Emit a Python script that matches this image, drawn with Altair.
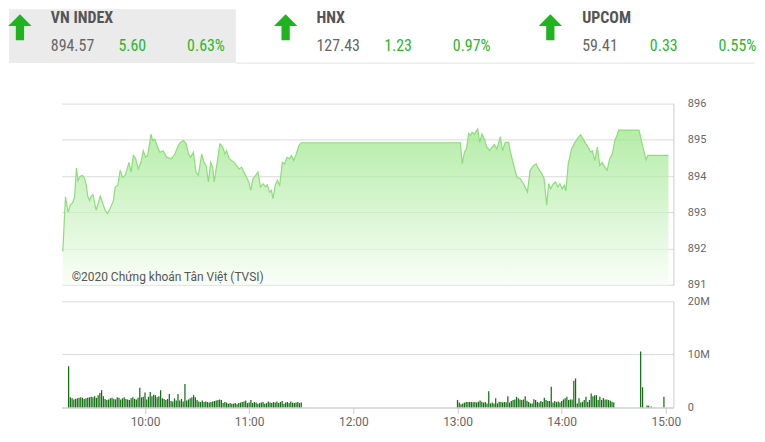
import altair as alt
import pandas as pd

# ---------------- data ----------------
INDEX_NAMES = ["VN INDEX", "HNX", "UPCOM"]
INDEX_VALUES = ["894.57", "127.43", "59.41"]
INDEX_CHANGES = ["5.60", "1.23", "0.33"]
INDEX_PCTS = ["0.63%", "0.97%", "0.55%"]

# minutes since midnight, VN-Index value
PRICE_T = [555.5, 557.0, 558.5, 559.8, 561.1, 562.2, 563.2, 564.1, 565.4, 566.7,
           567.9, 568.8, 569.7, 570.7, 571.6, 572.6, 573.5, 574.4, 575.4, 576.7,
           578.2, 579.5, 580.8, 582.3, 584.2, 585.2, 586.7, 588.0, 589.3, 590.8,
           591.7, 593.0, 594.2, 595.5, 596.8, 598.3, 599.8, 601.1, 602.4, 603.6,
           605.5, 606.4, 607.7, 609.2, 610.5, 612.4, 614.3, 617.1, 619.0, 620.9,
           622.0, 623.9, 625.4, 626.7, 628.0, 629.5, 631.0, 632.3, 634.2, 635.5,
           636.7, 638.0, 639.3, 640.4, 641.3, 642.7, 644.5, 646.1, 647.4, 648.3,
           649.8, 651.1, 652.6, 653.9, 655.4, 656.8, 658.1, 659.6, 660.9, 662.0,
           663.3, 664.8, 666.1, 667.5, 669.0, 670.3, 671.4, 672.7, 673.7, 674.6,
           675.9, 677.1, 678.4, 679.9, 681.2, 682.5, 684.0, 685.0, 686.3, 687.8,
           689.3, 690.6, 780.8, 781.8, 783.1, 784.2, 785.5, 786.5, 787.4, 788.7,
           789.9, 790.6, 791.7, 793.0, 794.4, 795.8, 797.4, 798.7, 800.0, 801.5,
           803.4, 804.7, 806.2, 808.1, 809.4, 811.3, 812.8, 814.7, 816.6, 818.8,
           820.3, 822.2, 823.7, 825.0, 826.9, 828.2, 829.7, 830.8, 831.9, 833.5,
           834.8, 835.9, 837.2, 838.5, 839.7, 840.6, 841.9, 843.8, 845.7, 847.6,
           848.9, 850.4, 851.9, 853.2, 854.5, 855.6, 857.0, 858.4, 859.8, 861.1,
           862.6, 863.9, 865.4, 866.9, 868.3, 869.5, 870.5, 882.0, 884.2, 886.0,
           887.0, 898.7]
PRICE_V = [891.92, 893.43, 893.01, 893.20, 893.27, 893.43, 894.22, 893.88, 894.00, 894.02,
           893.93, 893.76, 893.43, 893.33, 893.45, 893.49, 893.27, 893.06, 893.22, 893.45,
           893.24, 893.06, 892.97, 893.11, 893.33, 893.70, 893.75, 894.16, 893.97, 894.02,
           894.16, 894.38, 894.11, 894.57, 894.48, 894.20, 894.38, 894.70, 894.52, 894.57,
           895.16, 894.98, 895.02, 894.80, 894.66, 894.70, 894.52, 894.48, 894.61, 894.84,
           894.93, 894.98, 894.89, 894.61, 894.52, 894.66, 894.11, 894.02, 894.61, 894.38,
           894.29, 893.84, 894.38, 894.25, 893.84, 894.29, 894.89, 894.80, 894.61, 894.70,
           894.48, 894.43, 894.38, 894.29, 894.20, 894.25, 894.11, 893.97, 893.84, 893.61,
           893.93, 894.02, 894.11, 893.70, 893.79, 893.70, 893.76, 893.56, 893.61, 893.38,
           893.75, 893.88, 893.75, 894.38, 894.34, 894.52, 894.48, 894.57, 894.43, 894.61,
           894.84, 894.92, 894.92, 894.34, 894.66, 894.75, 895.18, 895.12, 895.21, 895.16,
           895.25, 895.30, 894.93, 895.16, 895.02, 894.80, 894.70, 894.80, 894.87, 894.75,
           895.09, 894.70, 894.93, 894.93, 894.61, 894.25, 893.97, 893.93, 893.79, 893.56,
           894.16, 894.29, 894.34, 894.20, 894.07, 893.93, 893.20, 893.79, 893.65, 893.79,
           893.84, 893.70, 893.79, 893.65, 893.75, 893.59, 894.34, 894.75, 894.93, 895.07,
           895.14, 895.02, 894.89, 894.80, 894.66, 894.70, 894.43, 894.80, 894.29, 894.38,
           894.25, 894.16, 894.48, 894.61, 894.98, 895.12, 895.27, 895.27, 894.80, 894.45,
           894.57, 894.57]

# matched volume per minute, millions of shares
AM_START = 556
AM_VOL = [7.75, 1.9, 1.7, 1.5, 1.6, 1.7, 1.8, 1.9, 1.8, 1.6,
          1.7, 1.8, 1.9, 2.0, 1.9, 2.1, 1.8, 2.3, 2.7, 3.25,
          2.1, 1.6, 1.4, 1.5, 1.7, 1.8, 1.6, 1.5, 1.9, 1.8,
          1.5, 1.7, 1.9, 1.6, 1.5, 1.4, 1.7, 1.9, 1.6, 1.5,
          1.8, 3.7, 1.9, 2.0, 2.8, 1.5, 2.0, 2.9, 2.1, 2.4,
          2.3, 1.9, 2.1, 3.25, 1.7, 1.6, 1.4, 1.6, 2.5, 1.2,
          1.1, 1.7, 1.3, 2.5, 1.3, 1.6, 1.1, 4.4, 1.3, 1.5,
          1.7, 1.9, 2.3, 1.9, 1.4, 1.1, 1.0, 1.3, 1.0, 1.1,
          1.0, 0.9, 1.0, 1.1, 1.2, 1.3, 1.4, 1.5, 1.4, 0.8,
          1.0, 0.9, 0.7, 0.8, 0.7, 0.7, 0.8, 0.6, 0.8, 0.9,
          1.0, 1.1, 1.3, 0.8, 0.9, 1.4, 0.8, 1.0, 0.9, 0.7,
          0.8, 0.9, 1.0, 0.7, 0.8, 1.1, 0.9, 0.8, 1.0, 0.9,
          1.1, 0.8, 1.0, 1.2, 0.7, 0.9, 1.0, 0.8, 1.1, 0.9,
          0.8, 0.9, 1.0, 0.8, 0.9]
PM_START = 780
PM_VOL = [1.4, 0.9, 0.6, 0.75, 0.9, 1.0, 1.0, 1.0, 1.0, 0.95,
          1.0, 0.9, 1.05, 1.3, 1.05, 0.9, 1.0, 0.75, 3.06, 0.75,
          0.9, 0.75, 1.7, 0.75, 1.05, 1.0, 0.9, 1.0, 0.95, 2.1,
          0.9, 1.2, 1.4, 1.5, 2.0, 1.7, 1.5, 1.4, 1.5, 2.1,
          1.25, 1.0, 0.75, 0.75, 1.55, 1.4, 1.0, 0.9, 1.2, 1.0,
          1.8, 1.4, 1.2, 1.2, 3.9, 0.9, 1.2, 1.0, 1.1, 0.9,
          1.2, 1.5, 1.7, 2.0, 1.4, 1.5, 1.5, 5.0, 5.45, 0.75,
          1.7, 0.9, 1.05, 1.4, 2.0, 1.0, 1.4, 2.6, 2.1, 2.3,
          2.3, 1.4, 2.0, 1.4, 1.75, 1.5, 1.5, 1.4, 1.25, 1.05,
          0.9]
LATE_T = [885.5, 886.6, 889.2, 890.1, 891.6, 898.9]
LATE_VOL = [10.55, 3.8, 0.35, 0.3, 0.15, 2.0]

X_DOMAIN = [554.9, 901.5]
HOUR_TICKS = [600, 660, 720, 780, 840, 900]
PRICE_DOMAIN = [891, 896]
PRICE_TICKS = [891, 892, 893, 894, 895, 896]
VOL_DOMAIN = [0, 20]
VOL_TICKS = [0, 10, 20]
COPYRIGHT = "©2020 Chứng khoán Tân Việt (TVSI)"

# ---------------- tables ----------------
price = pd.DataFrame({"t": PRICE_T, "v": PRICE_V})
vol_t = ([AM_START + i for i in range(len(AM_VOL))]
         + [PM_START + i for i in range(len(PM_VOL))] + LATE_T)
vol = pd.DataFrame({"t": vol_t, "m": AM_VOL + PM_VOL + LATE_VOL})

W, H_TOP, H_VOL = 614.7, 182.3, 106.6
GRID = "#dadada"
LABEL = "#666666"
GREEN = "#2db52d"
HFONT = "Roboto Condensed, Liberation Sans Narrow, Arial Narrow, Roboto"

xscale = alt.Scale(domain=X_DOMAIN, nice=False, zero=False)

area = alt.Chart(price).mark_area(
    interpolate="linear",
    line={"color": "#8ddd7a", "strokeWidth": 1.2},
    color=alt.Gradient(
        gradient="linear",
        stops=[alt.GradientStop(color="#f7fdf5", offset=0),
               alt.GradientStop(color="#95e583", offset=1)],
        x1=1, x2=1, y1=1, y2=0),
).encode(
    x=alt.X("t:Q", scale=xscale, axis=None),
    y=alt.Y("v:Q", scale=alt.Scale(domain=PRICE_DOMAIN, nice=False, zero=False),
            axis=alt.Axis(orient="right", values=PRICE_TICKS, title=None,
                          grid=True, gridColor=GRID, ticks=False, tickSize=0,
                          domain=True, domainColor="#cccccc",
                          labelPadding=14, labelFont="Roboto", labelFontSize=11,
                          labelColor=LABEL, labelFlush=False)),
    y2=alt.datum(PRICE_DOMAIN[0]),
)

one = pd.DataFrame({"k": [0]})

copyright_txt = alt.Chart(one).mark_text(
    text=COPYRIGHT, align="left", baseline="middle", font="Roboto",
    fontSize=12, color="#555555"
).encode(x=alt.value(10), y=alt.value(174.5))

# header (drawn above the price panel)
panel = alt.Chart(one).mark_rect(color="#ebebeb").encode(
    x=alt.value(-53), x2=alt.value(175), y=alt.value(-94.7), y2=alt.value(-40.7))
sep = alt.Chart(one).mark_rule(color="#e2e2e2", strokeWidth=1).encode(
    x=alt.value(175), x2=alt.value(696), y=alt.value(-40.7))

ARROW = "M0,-1L0.9,-0.1L0.32,-0.1L0.32,1L-0.32,1L-0.32,-0.1L-0.9,-0.1Z"
header_layers = [panel, sep]
GROUP_X = [-11, 256, 523]
ARROW_X = [-42, 225, 491]
for gx, ax, name, val, chg, pct in zip(GROUP_X, ARROW_X, INDEX_NAMES,
                                       INDEX_VALUES, INDEX_CHANGES, INDEX_PCTS):
    header_layers.append(alt.Chart(one).mark_point(
        shape=ARROW, filled=True, size=676, color="#1fb41f", opacity=1, strokeWidth=0
    ).encode(x=alt.value(ax), y=alt.value(-76.7)))
    header_layers.append(alt.Chart(one).mark_text(
        text=name, align="left", baseline="middle", font=HFONT, fontSize=16,
        fontWeight="bold", color="#555555"
    ).encode(x=alt.value(gx), y=alt.value(-85.7)))
    header_layers.append(alt.Chart(one).mark_text(
        text=val, align="left", baseline="middle", font=HFONT, fontSize=16,
        color="#666666"
    ).encode(x=alt.value(gx), y=alt.value(-57.7)))
    header_layers.append(alt.Chart(one).mark_text(
        text=chg, align="left", baseline="middle", font=HFONT, fontSize=16,
        color=GREEN
    ).encode(x=alt.value(gx + 68), y=alt.value(-57.7)))
    header_layers.append(alt.Chart(one).mark_text(
        text=pct, align="left", baseline="middle", font=HFONT, fontSize=16,
        color=GREEN
    ).encode(x=alt.value(gx + 137), y=alt.value(-57.7)))

top = alt.layer(*header_layers, area, copyright_txt).properties(width=W, height=H_TOP)

hour_label = ("floor(datum.value / 60) + ':' + "
              "(datum.value % 60 < 10 ? '0' : '') + (datum.value % 60)")

bars = alt.Chart(vol).mark_bar(size=1.25, color="#146f14").encode(
    x=alt.X("t:Q", scale=xscale,
            axis=alt.Axis(values=HOUR_TICKS, labelExpr=hour_label, title=None,
                          grid=False, domain=True, domainColor="#cccccc",
                          ticks=True, tickColor="#cccccc", tickSize=6,
                          labelPadding=3, labelFont="Roboto", labelFontSize=12,
                          labelColor=LABEL, labelFlush=False)),
    y=alt.Y("m:Q", scale=alt.Scale(domain=VOL_DOMAIN, nice=False),
            axis=alt.Axis(orient="right", values=VOL_TICKS, title=None,
                          labelExpr="datum.value == 0 ? '0' : datum.value + 'M'",
                          grid=True, gridColor=GRID, ticks=False, tickSize=0,
                          domain=True, domainColor="#cccccc",
                          labelPadding=14, labelFont="Roboto", labelFontSize=11,
                          labelColor=LABEL, labelFlush=False)),
).properties(width=W, height=H_VOL)

chart = alt.vconcat(top, bars, spacing=15.7, bounds="flush").properties(
    padding=0
).configure_view(strokeWidth=0)

chart.save("out.html", embed_options={"renderer": "svg", "actions": False})
